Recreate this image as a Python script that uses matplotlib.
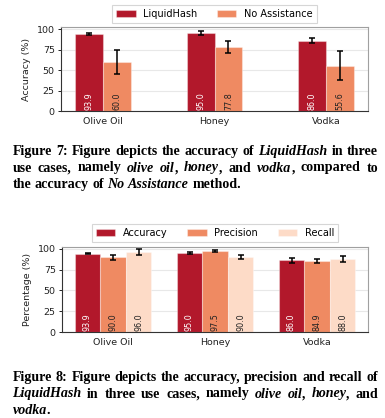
import matplotlib
matplotlib.use("Agg")
import matplotlib.pyplot as plt
import numpy as np

# ---------------- data ----------------
categories = ["Olive Oil", "Honey", "Vodka"]

lh_acc = [93.9, 95.0, 86.0]
lh_err = [1.2, 2.5, 3.0]
na_acc = [60.0, 77.8, 55.6]
na_err = [15.0, 7.3, 17.9]

acc = [93.9, 95.0, 86.0]
acc_err = [0.8, 1.6, 2.6]
prec = [90.0, 97.5, 84.9]
prec_err = [3.0, 1.2, 2.6]
rec = [96.0, 90.0, 88.0]
rec_err = [3.2, 2.0, 3.4]

legend1 = ["LiquidHash", "No Assistance"]
legend2 = ["Accuracy", "Precision", "Recall"]

RED = "#b2182b"
ORANGE = "#ef8a62"
PEACH = "#fddbc7"

W, H = 385, 418
fig = plt.figure(figsize=(W / 100, H / 100), dpi=100)
FS = 6.8


def style_axes(ax, ylabel, xlim):
    ax.set_xlim(*xlim)
    ax.set_ylim(0, 102)
    ax.set_yticks([0, 25, 50, 75, 100])
    ax.set_xticks(range(len(categories)))
    ax.set_xticklabels(categories, fontsize=FS)
    ax.tick_params(axis="y", labelsize=FS, length=2.5, width=0.7, pad=2, colors="#222222")
    ax.tick_params(axis="x", length=0, pad=4, colors="#222222")
    ax.set_ylabel(ylabel, fontsize=FS, color="#222222", labelpad=4)
    ax.yaxis.grid(True, color="#e8e8e8", linewidth=0.8)
    ax.set_axisbelow(True)
    for s in ["left", "bottom"]:
        ax.spines[s].set_color("#333333")
        ax.spines[s].set_linewidth(0.8)
    for s in ["top", "right"]:
        ax.spines[s].set_color("#a0a0a0")
        ax.spines[s].set_linewidth(0.8)


def draw_bars(ax, x, vals, errs, color, label, txtcolor):
    bars = ax.bar(x, vals, width=0.25, color=color, label=label,
                  edgecolor=(1, 1, 1, 0.35), linewidth=0.8, zorder=2)
    ax.errorbar(x, vals, yerr=errs, fmt="none", ecolor="black",
                elinewidth=1.1, capsize=2.0, capthick=1.1, zorder=3)
    for xi, v in zip(x, vals):
        ax.text(xi, 1.0, f"{v:.1f}", rotation=90, ha="center", va="bottom",
                fontsize=5.8, color=txtcolor, zorder=4)
    return bars


def add_legend(ax, ncol):
    leg = ax.legend(loc="lower center", bbox_to_anchor=(0.5, 1.0), ncol=ncol,
                    fontsize=7, frameon=True, fancybox=False, edgecolor="#cccccc",
                    borderpad=0.4, handlelength=2.0, columnspacing=2.0)
    leg.get_frame().set_linewidth(0.8)


# ---------------- chart 1 ----------------
ax1 = fig.add_axes([61 / W, 1 - 111.3 / H, 307 / W, 83.8 / H])
xc = np.arange(len(categories))
draw_bars(ax1, xc - 0.125, lh_acc, lh_err, RED, legend1[0], "white")
draw_bars(ax1, xc + 0.125, na_acc, na_err, ORANGE, legend1[1], "#222222")
style_axes(ax1, "Accuracy (%)", (-0.375, 2.375))
add_legend(ax1, 2)

# ---------------- chart 2 ----------------
ax2 = fig.add_axes([62 / W, 1 - 332.3 / H, 306 / W, 85.3 / H])
draw_bars(ax2, xc - 0.25, acc, acc_err, RED, legend2[0], "white")
draw_bars(ax2, xc, prec, prec_err, ORANGE, legend2[1], "#222222")
draw_bars(ax2, xc + 0.25, rec, rec_err, PEACH, legend2[2], "#222222")
style_axes(ax2, "Percentage (%)", (-0.5, 2.5))
add_legend(ax2, 3)

# ---------------- captions ----------------
cap1 = [
    [("Figure 7: Figure depicts the accuracy of ", "normal"), ("LiquidHash", "italic"), (" in three", "normal")],
    [("use cases, namely ", "normal"), ("olive oil", "italic"), (", ", "normal"), ("honey", "italic"),
     (", and ", "normal"), ("vodka", "italic"), (", compared to", "normal")],
    [("the accuracy of ", "normal"), ("No Assistance", "italic"), (" method.", "normal")],
]
cap2 = [
    [("Figure 8: Figure depicts the accuracy, precision and recall of", "normal")],
    [("LiquidHash", "italic"), (" in three use cases, namely ", "normal"), ("olive oil", "italic"),
     (", ", "normal"), ("honey", "italic"), (", and", "normal")],
    [("vodka", "italic"), (".", "normal")],
]

renderer = fig.canvas.get_renderer()
SERIF = ["Liberation Serif", "DejaVu Serif"]


def measure(t, style, fs):
    tx = fig.text(0, 0, t, fontsize=fs, fontweight="bold", fontstyle=style, family=SERIF)
    w = tx.get_window_extent(renderer).width
    tx.remove()
    return w


def words_of(segs):
    words = [[]]
    for text, style in segs:
        parts = text.split(" ")
        for i, p in enumerate(parts):
            if i > 0:
                words.append([])
            if p:
                words[-1].append((p, style))
    return [w for w in words if w]


X0, X1 = 12.5, 378.0

test_fs = 10.0


def natural_width(segs, fs):
    ws = words_of(segs)
    tot = sum(measure(t, s, fs) for w in ws for (t, s) in w)
    sp = measure("a a", "normal", fs) - measure("aa", "normal", fs)
    return tot + sp * (len(ws) - 1)


nats = [natural_width(l, test_fs) for l in [cap1[0], cap1[1], cap2[0], cap2[1]]]
CFS = test_fs * min((X1 - X0) * 0.97 / np.mean(nats), (X1 - X0) * 1.02 / max(nats))


def draw_line(segs, y_base, justify):
    ws = words_of(segs)
    widths = [[measure(t, s, CFS) for (t, s) in w] for w in ws]
    tot = sum(sum(w) for w in widths)
    if justify and len(ws) > 1:
        gap = (X1 - X0 - tot) / (len(ws) - 1)
    else:
        gap = measure("a a", "normal", CFS) - measure("aa", "normal", CFS)
    x = X0
    for w, wl in zip(ws, widths):
        for (t, s), fw in zip(w, wl):
            fig.text(x / W, 1 - y_base / H, t, fontsize=CFS, fontweight="bold",
                     fontstyle=s, family=SERIF, ha="left", va="baseline", color="black")
            x += fw
        x += gap


LS = 16.5
for i, line in enumerate(cap1):
    draw_line(line, 155 + i * LS, justify=(i < len(cap1) - 1))
for i, line in enumerate(cap2):
    draw_line(line, 381 + i * LS, justify=(i < len(cap2) - 1))

fig.savefig("out.png", dpi=100)
